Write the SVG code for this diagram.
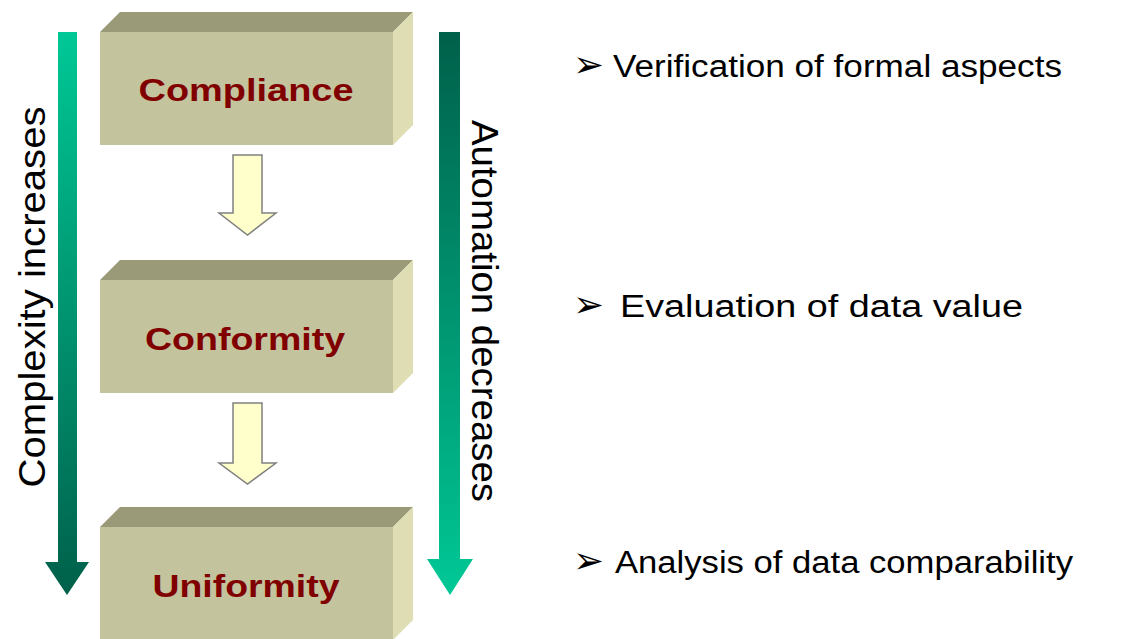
<svg xmlns="http://www.w3.org/2000/svg" width="1128" height="639" viewBox="0 0 1128 639">
<style>
.front{fill:#C3C39D}
.top{fill:#9A9A78}
.side{fill:#DEDDB3}
.lbl{font-family:"Liberation Sans",Arial,sans-serif;font-weight:bold;font-size:31px;fill:#800000;text-anchor:middle}
.vt{font-family:"Liberation Sans",Arial,sans-serif;font-size:37px;fill:#000;text-anchor:middle}
.bt{font-family:"Liberation Sans",Arial,sans-serif;font-size:31px;fill:#000}
.bul{font-family:"DejaVu Sans",sans-serif;font-size:37px;fill:#000}
.flow{fill:#FFFFCC;stroke:#808080;stroke-width:1.5}
</style>
<defs>
<linearGradient id="gDown" gradientUnits="userSpaceOnUse" x1="0" y1="32" x2="0" y2="595">
<stop offset="0" stop-color="#00C896"/>
<stop offset="1" stop-color="#00604A"/>
</linearGradient>
<linearGradient id="gUp" gradientUnits="userSpaceOnUse" x1="0" y1="32" x2="0" y2="595">
<stop offset="0" stop-color="#00604A"/>
<stop offset="1" stop-color="#00C896"/>
</linearGradient>
</defs>
<rect width="1128" height="639" fill="#FFFFFF"/>

<g id="complexity-arrow">
<polygon points="58,32 77,32 77,562 89,562 67,595 45,562 58,562" fill="url(#gDown)"/>
<text class="vt" transform="translate(45,297) rotate(-90)" textLength="381" lengthAdjust="spacingAndGlyphs">Complexity increases</text>
</g>

<g id="automation-arrow">
<polygon points="439,32 460,32 460,559 473,559 450,595 427,559 439,559" fill="url(#gUp)"/>
<text class="vt" transform="translate(472,311) rotate(90)" textLength="382" lengthAdjust="spacingAndGlyphs">Automation decreases</text>
</g>

<g id="compliance">
<polygon class="top" points="100,32 120,12 413,12 393,32"/>
<polygon class="side" points="393,32 413,12 413,125 393,145"/>
<rect class="front" x="100" y="32" width="293" height="113"/>
<text class="lbl" x="246" y="101" textLength="215" lengthAdjust="spacingAndGlyphs">Compliance</text>
</g>

<g id="conformity">
<polygon class="top" points="100,280 120,260 413,260 393,280"/>
<polygon class="side" points="393,280 413,260 413,373 393,393"/>
<rect class="front" x="100" y="280" width="293" height="113"/>
<text class="lbl" x="245" y="350" textLength="200" lengthAdjust="spacingAndGlyphs">Conformity</text>
</g>

<g id="uniformity">
<polygon class="top" points="100,527 120,507 413,507 393,527"/>
<polygon class="side" points="393,527 413,507 413,620 393,640"/>
<rect class="front" x="100" y="527" width="293" height="113"/>
<text class="lbl" x="246" y="597" textLength="187" lengthAdjust="spacingAndGlyphs">Uniformity</text>
</g>

<g id="connectors">
<polygon class="flow" points="233,155 262,155 262,213 276,213 247.5,235 219,213 233,213"/>
<polygon class="flow" points="233,403 262,403 262,463 276,463 247.5,484 219,463 233,463"/>
</g>

<g id="bullet-1">
<text class="bul" x="573" y="77">➢</text>
<text class="bt" x="613" y="77" textLength="449" lengthAdjust="spacingAndGlyphs">Verification of formal aspects</text>
</g>
<g id="bullet-2">
<text class="bul" x="573" y="317">➢</text>
<text class="bt" x="620" y="317" textLength="403" lengthAdjust="spacingAndGlyphs">Evaluation of data value</text>
</g>
<g id="bullet-3">
<text class="bul" x="573" y="573">➢</text>
<text class="bt" x="615" y="573" textLength="458" lengthAdjust="spacingAndGlyphs">Analysis of data comparability</text>
</g>
</svg>
